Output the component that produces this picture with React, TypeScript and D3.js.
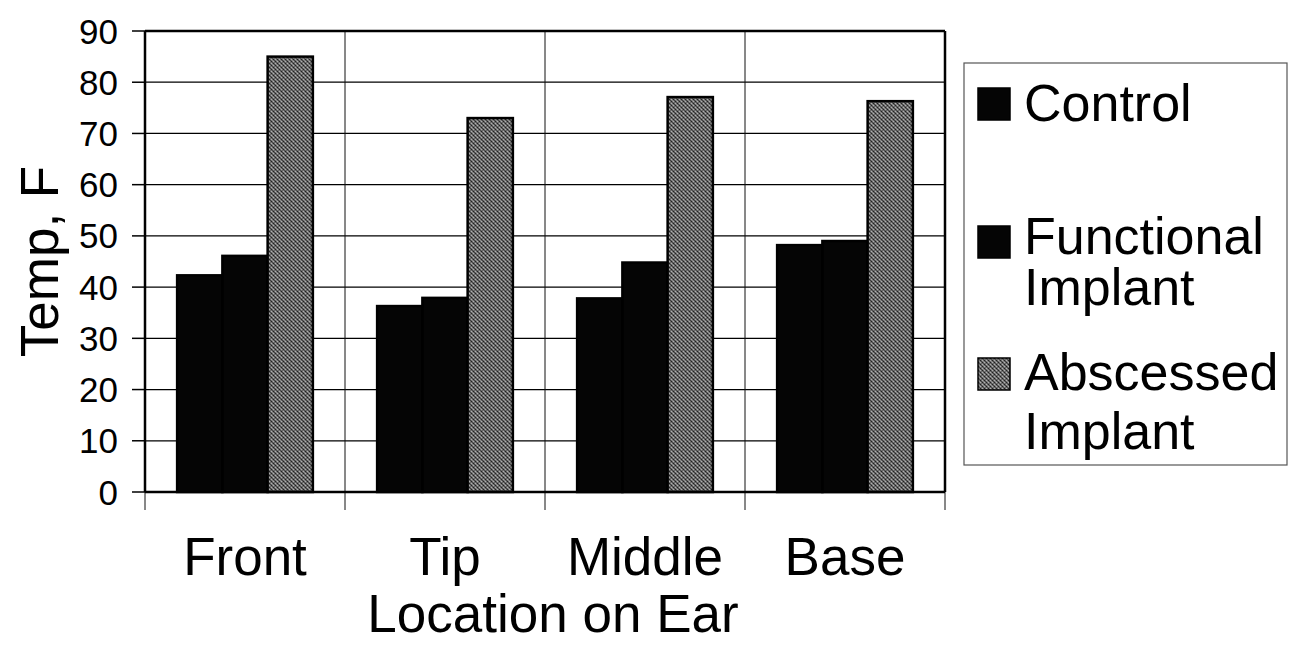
import * as d3 from "d3";

const categories = ["Front", "Tip", "Middle", "Base"];
const seriesNames = ["Control", "Functional Implant", "Abscessed Implant"];
const control = [42.3, 36.3, 37.8, 48.2];
const functional = [46.1, 37.9, 44.8, 49.0];
const abscessed = [85.0, 73.0, 77.1, 76.3];
const yTicks = [0, 10, 20, 30, 40, 50, 60, 70, 80, 90];
const legendLines = [["Control"], ["Functional", "Implant"], ["Abscessed", "Implant"]];

const W = 1290, H = 653;
const margin = { top: 31, right: 345, bottom: 161, left: 145 };
const innerW = W - margin.left - margin.right;
const innerH = H - margin.top - margin.bottom;
const FONT = "Liberation Sans, Arial, Helvetica, sans-serif";

export default function App() {
  const values = [control, functional, abscessed];
  const x0 = d3.scaleBand().domain(categories).range([0, innerW]).padding(0);
  const x1 = d3.scaleBand().domain(seriesNames).range([0, x0.bandwidth()]).paddingInner(0).paddingOuter(0.71);
  const y = d3.scaleLinear().domain([0, 90]).range([innerH, 0]);
  const fills = ["#050505", "#050505", "url(#stipple)"];
  const bounds = [...categories.map((c) => x0(c)!), innerW];

  // legend layout (rows: swatch top, first baseline, line step)
  const legRows = [
    { sw: 88, base: 121, step: 0 },
    { sw: 226, base: 254, step: 51 },
    { sw: 358, base: 390, step: 59 },
  ];

  return (
    <div style={{ position: "absolute", left: 0, top: 0 }}>
      <svg width={W} height={H} style={{ display: "block", background: "#fff" }} fontFamily={FONT}>
        <defs>
          <pattern id="stipple" width={4} height={4} patternUnits="userSpaceOnUse">
            <rect width={4} height={4} fill="#6c6c6c" />
            <rect x={0} y={0} width={1} height={1} fill="#222" />
            <rect x={2} y={2} width={1} height={1} fill="#222" />
            <rect x={2} y={0} width={1} height={1} fill="#b0b0b0" />
            <rect x={0} y={2} width={1} height={1} fill="#b0b0b0" />
            <rect x={1} y={1} width={1} height={1} fill="#404040" />
            <rect x={3} y={3} width={1} height={1} fill="#4a4a4a" />
            <rect x={3} y={1} width={1} height={1} fill="#909090" />
          </pattern>
        </defs>
        <g transform={`translate(${margin.left},${margin.top})`}>
          {/* gridlines */}
          {yTicks.map((t) => (
            <line key={`g${t}`} x1={0} x2={innerW} y1={y(t)} y2={y(t)} stroke="#000" strokeWidth={1.2} />
          ))}
          {bounds.map((b, i) => (
            <line key={`v${i}`} x1={b} x2={b} y1={0} y2={innerH + 18} stroke="#111" strokeWidth={1} />
          ))}
          {/* bars */}
          {categories.map((c, ci) => (
            <g key={c} transform={`translate(${x0(c)},0)`}>
              {seriesNames.map((s, si) => (
                <rect key={s} x={x1(s)!} y={y(values[si][ci])} width={x1.bandwidth()}
                  height={innerH - y(values[si][ci])} fill={fills[si]} stroke="#000" strokeWidth={2.5} />
              ))}
            </g>
          ))}
          {/* frame */}
          <line x1={0} x2={innerW} y1={0} y2={0} stroke="#000" strokeWidth={2.5} />
          <line x1={innerW} x2={innerW} y1={0} y2={innerH} stroke="#000" strokeWidth={2.5} />
          <line x1={0} x2={0} y1={0} y2={innerH} stroke="#000" strokeWidth={2.5} />
          <line x1={0} x2={innerW} y1={innerH} y2={innerH} stroke="#000" strokeWidth={2.5} />
          {/* y ticks */}
          {yTicks.map((t) => (
            <g key={`t${t}`}>
              <line x1={-13} x2={0} y1={y(t)} y2={y(t)} stroke="#000" strokeWidth={1.5} />
              <text x={-27} y={y(t)} dy="0.36em" textAnchor="end" fontSize={35} fill="#000">{t}</text>
            </g>
          ))}
          {categories.map((c) => (
            <text key={c} x={x0(c)! + x0.bandwidth() / 2} y={innerH + 83} textAnchor="middle" fontSize={53} fill="#000">{c}</text>
          ))}
          <text x={innerW / 2 + 8} y={innerH + 140} textAnchor="middle" fontSize={53} fill="#000">Location on Ear</text>
          <text transform={`translate(${-87},${innerH / 2}) rotate(-90)`} textAnchor="middle" fontSize={53} fill="#000">Temp, F</text>
        </g>
        {/* legend */}
        <rect x={964} y={63} width={323} height={402} fill="none" stroke="#555" strokeWidth={1.2} />
        {legendLines.map((lines, i) => (
          <g key={i}>
            <rect x={978} y={legRows[i].sw} width={32} height={32} fill={fills[i]} stroke="#000" strokeWidth={1.5} />
            <text x={1024} y={legRows[i].base} fontSize={52} fill="#000">
              {lines.map((l, j) => (
                <tspan key={j} x={1024} dy={j === 0 ? 0 : legRows[i].step}>{l}</tspan>
              ))}
            </text>
          </g>
        ))}
      </svg>
    </div>
  );
}
